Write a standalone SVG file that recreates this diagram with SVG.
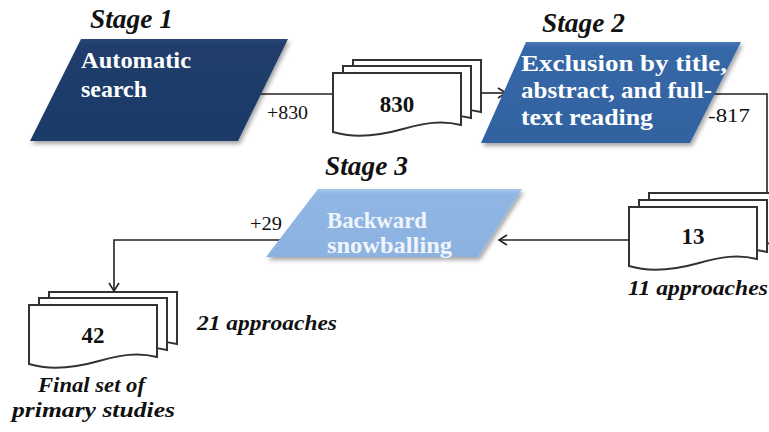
<svg xmlns="http://www.w3.org/2000/svg" width="769" height="432" viewBox="0 0 769 432">
  <defs>
    <filter id="shadow" x="-10%" y="-10%" width="125%" height="130%">
      <feDropShadow dx="2" dy="3" stdDeviation="2" flood-color="#000" flood-opacity="0.35"/>
    </filter>
    <marker id="arrow" markerUnits="userSpaceOnUse" markerWidth="14" markerHeight="14" viewBox="-10 -7 12 14" refX="0" refY="0" orient="auto">
      <path d="M-8,-5 L0,0 L-8,5" fill="none" stroke="#222" stroke-width="1.6"/>
    </marker>
    <linearGradient id="g1" x1="0" y1="0" x2="0" y2="1">
      <stop offset="0" stop-color="#2a4878"/>
      <stop offset="0.06" stop-color="#203d6c"/>
      <stop offset="1" stop-color="#1e3a68"/>
    </linearGradient>
    <linearGradient id="g2" x1="0" y1="0" x2="0" y2="1">
      <stop offset="0" stop-color="#4a78b3"/>
      <stop offset="0.06" stop-color="#3667a6"/>
      <stop offset="1" stop-color="#3262a0"/>
    </linearGradient>
    <linearGradient id="g3" x1="0" y1="0" x2="0" y2="1">
      <stop offset="0" stop-color="#a6c5ea"/>
      <stop offset="0.08" stop-color="#90b6e4"/>
      <stop offset="1" stop-color="#8cb2e2"/>
    </linearGradient>
  </defs>
  <style>
    .doc { fill: #fff; stroke: #333; stroke-width: 2; }
    .conn { fill: none; stroke: #222; stroke-width: 1.6; }
    .stage { font-family: "Liberation Serif", serif; font-weight: bold; font-style: italic; font-size: 27px; fill: #111; }
    .label { font-family: "Liberation Serif", serif; font-weight: bold; font-size: 24px; fill: #fff; }
    .light { fill: #f0f5fc; }
    .num { font-family: "Liberation Serif", serif; font-weight: bold; font-size: 23px; fill: #111; text-anchor: middle; }
    .count { font-family: "Liberation Serif", serif; font-size: 19px; fill: #111; }
    .note { font-family: "Liberation Serif", serif; font-weight: bold; font-style: italic; font-size: 22px; fill: #111; }
  </style>

  <rect width="769" height="432" fill="#fff"/>

  <g id="connectors">
    <path class="conn" d="M257,94 H333"/>
    <path class="conn" d="M482,93 H506" marker-end="url(#arrow)"/>
    <path class="conn" d="M708,94 H767 V193"/>
    <path class="conn" d="M629,240 H499" marker-end="url(#arrow)"/>
    <path class="conn" d="M290,240 H114 V291" marker-end="url(#arrow)"/>
    <text class="count" x="267" y="119" textLength="41" lengthAdjust="spacingAndGlyphs">+830</text>
    <text class="count" x="708" y="122" textLength="42" lengthAdjust="spacingAndGlyphs">-817</text>
    <text class="count" x="250" y="230" textLength="32" lengthAdjust="spacingAndGlyphs">+29</text>
  </g>

  <g id="stage1">
    <text class="stage" x="90" y="28" textLength="83" lengthAdjust="spacingAndGlyphs">Stage 1</text>
    <polygon points="81,39 288,39 238,141 30,141" fill="url(#g1)" filter="url(#shadow)"/>
    <text class="label" x="81" y="68" textLength="110" lengthAdjust="spacingAndGlyphs">Automatic</text>
    <text class="label" x="81" y="97" textLength="66" lengthAdjust="spacingAndGlyphs">search</text>
  </g>

  <g id="doc830">
    <path class="doc" d="M353,60 H481 V112 C461,107 445,110 423,116 C398,123 373,125 353,119 Z"/>
    <path class="doc" d="M343,66 H471 V118 C451,113 435,116 413,122 C388,129 363,131 343,125 Z"/>
    <path class="doc" d="M333,73 H461 V125 C441,120 425,123 403,129 C378,136 353,138 333,132 Z"/>
    <text class="num" x="397" y="112">830</text>
  </g>

  <g id="stage2">
    <text class="stage" x="542" y="32" textLength="83" lengthAdjust="spacingAndGlyphs">Stage 2</text>
    <polygon points="526,42 741,42 690,143 481,143" fill="url(#g2)" filter="url(#shadow)"/>
    <text class="label" x="521" y="71" textLength="206" lengthAdjust="spacingAndGlyphs">Exclusion by title,</text>
    <text class="label" x="521" y="98" textLength="191" lengthAdjust="spacingAndGlyphs">abstract, and full-</text>
    <text class="label" x="521" y="125" textLength="132" lengthAdjust="spacingAndGlyphs">text reading</text>
  </g>

  <g id="doc13">
    <path class="doc" d="M649,193 H777 V245 C757,240 741,243 719,249 C694,256 669,258 649,252 Z"/>
    <path class="doc" d="M639,200 H767 V252 C747,247 731,250 709,256 C684,263 659,265 639,259 Z"/>
    <path class="doc" d="M629,207 H757 V259 C737,254 721,257 699,263 C674,270 649,272 629,266 Z"/>
    <text class="num" x="693" y="244">13</text>
    <text class="note" x="628" y="295" textLength="140" lengthAdjust="spacingAndGlyphs">11 approaches</text>
  </g>

  <g id="stage3">
    <text class="stage" x="325" y="175" textLength="83" lengthAdjust="spacingAndGlyphs">Stage 3</text>
    <polygon points="318,189 522,189 478,257 266,257" fill="url(#g3)" filter="url(#shadow)"/>
    <text class="label light" x="327" y="228" textLength="100" lengthAdjust="spacingAndGlyphs">Backward</text>
    <text class="label light" x="327" y="253" textLength="125" lengthAdjust="spacingAndGlyphs">snowballing</text>
  </g>

  <g id="doc42">
    <path class="doc" d="M49,292 H177 V344 C157,339 141,342 119,348 C94,355 69,357 49,351 Z"/>
    <path class="doc" d="M39,298 H167 V350 C147,345 131,348 109,354 C84,361 59,363 39,357 Z"/>
    <path class="doc" d="M29,305 H157 V357 C137,352 121,355 99,361 C74,368 49,370 29,364 Z"/>
    <text class="num" x="93" y="343">42</text>
    <text class="note" x="197" y="330" textLength="140" lengthAdjust="spacingAndGlyphs">21 approaches</text>
    <text class="note" x="38" y="392" textLength="107" lengthAdjust="spacingAndGlyphs">Final set of</text>
    <text class="note" x="12" y="417" textLength="163" lengthAdjust="spacingAndGlyphs">primary studies</text>
  </g>
</svg>
